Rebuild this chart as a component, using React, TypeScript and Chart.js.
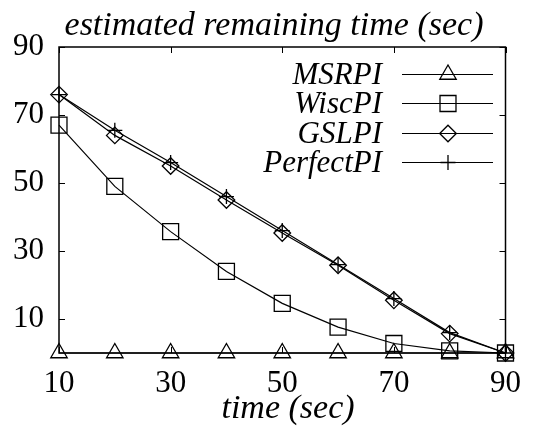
import React, { useEffect, useRef } from "react";
import { Chart, registerables } from "chart.js";
import { drawPoint } from "chart.js/helpers";

Chart.register(...registerables);

const TIME = [10, 20, 30, 40, 50, 60, 70, 80, 90];
const MSRPI = [0, 0, 0, 0, 0, 0, 0, 0, 0];
const WISCPI = [67, 49, 35.7, 24, 14.6, 7.6, 2.8, 0.6, 0];
const GSLPI = [76, 64, 55, 45, 35.3, 25.8, 15.5, 5.7, 0];
const PERFECTPI = [76, 65.5, 56, 46, 36, 26, 16, 6, 0];
const X_TICKS = [10, 30, 50, 70, 90];
const Y_TICKS = [10, 30, 50, 70, 90];
const SERIES_NAMES = ["MSRPI", "WiscPI", "GSLPI", "PerfectPI"];
const TITLE = "estimated remaining time (sec)";
const X_TITLE = "time (sec)";

const FONT = "Liberation Serif";

const STYLES = [
  { pointStyle: "triangle", radius: 9.5 },
  { pointStyle: "rect", radius: 11.3 },
  { pointStyle: "rectRot", radius: 8.3 },
  { pointStyle: "cross", radius: 7.5 },
];

const framePlugin = {
  id: "frame",
  beforeDatasetsDraw(chart: any) {
    const { ctx, chartArea } = chart;
    const { left, right, top, bottom } = chartArea;
    const xs = chart.scales.x;
    const ys = chart.scales.y;
    ctx.save();
    ctx.strokeStyle = "#000";
    ctx.lineWidth = 1.5;
    ctx.strokeRect(left, top, right - left, bottom - top);
    ctx.lineWidth = 1;
    const tl = 6;
    ctx.beginPath();
    X_TICKS.forEach((v) => {
      const px = Math.round(xs.getPixelForValue(v)) + 0.5;
      ctx.moveTo(px, bottom);
      ctx.lineTo(px, bottom - tl);
      ctx.moveTo(px, top);
      ctx.lineTo(px, top + tl);
    });
    Y_TICKS.forEach((v) => {
      const py = Math.round(ys.getPixelForValue(v)) + 0.5;
      ctx.moveTo(left, py);
      ctx.lineTo(left + tl, py);
      ctx.moveTo(right, py);
      ctx.lineTo(right - tl, py);
    });
    ctx.stroke();
    ctx.restore();
  },
  afterDraw(chart: any) {
    const { ctx } = chart;
    ctx.save();
    ctx.fillStyle = "#000";
    ctx.font = `italic 34px "${FONT}"`;
    ctx.textAlign = "center";
    ctx.textBaseline = "alphabetic";
    ctx.fillText(TITLE, 274, 35);
    ctx.fillText(X_TITLE, 288, 418);

    // legend
    ctx.font = `italic 31px "${FONT}"`;
    const rows = [74, 103, 133, 162];
    chart.data.datasets.forEach((ds: any, i: number) => {
      const y = rows[i] + 0.5;
      ctx.textAlign = "right";
      ctx.fillStyle = "#000";
      ctx.fillText(ds.label, 382, rows[i] + 10);
      ctx.strokeStyle = "#000";
      ctx.lineWidth = 1;
      ctx.beginPath();
      ctx.moveTo(402, y);
      ctx.lineTo(493, y);
      ctx.stroke();
      ctx.fillStyle = "rgba(0,0,0,0)";
      ctx.lineWidth = 1.3;
      drawPoint(
        ctx,
        { pointStyle: ds.pointStyle, radius: ds.pointRadius, rotation: 0, borderWidth: 1.3 },
        448,
        y
      );
    });
    ctx.restore();
  },
};

export default function App() {
  const ref = useRef<HTMLCanvasElement>(null);

  useEffect(() => {
    if (!ref.current) return;
    const seriesData = [MSRPI, WISCPI, GSLPI, PERFECTPI];
    const chart = new Chart(ref.current, {
      type: "line",
      data: {
        datasets: seriesData.map((arr, i) => ({
          label: SERIES_NAMES[i],
          data: TIME.map((t, j) => ({ x: t, y: arr[j] })),
          borderColor: "#000",
          backgroundColor: "rgba(0,0,0,0)",
          borderWidth: 1.2,
          pointStyle: STYLES[i].pointStyle as any,
          pointRadius: STYLES[i].radius,
          pointBorderWidth: 1.3,
          pointBorderColor: "#000",
          pointBackgroundColor: "rgba(0,0,0,0)",
          tension: 0,
          clip: false as any,
        })),
      },
      options: {
        animation: false,
        responsive: true,
        maintainAspectRatio: false,
        layout: { padding: { top: 47, right: 17, left: 0, bottom: 0 } },
        plugins: {
          legend: { display: false },
          title: { display: false },
          tooltip: { enabled: false },
        },
        scales: {
          x: {
            type: "linear",
            min: 10,
            max: 90,
            afterBuildTicks: (s: any) => {
              s.ticks = X_TICKS.map((v) => ({ value: v }));
            },
            afterFit: (s: any) => {
              s.height = 75;
            },
            grid: { display: false, drawTicks: false },
            border: { display: false },
            ticks: {
              autoSkip: false,
              maxRotation: 0,
              padding: 12,
              color: "#000",
              font: { family: FONT, size: 31 },
            },
          },
          y: {
            type: "linear",
            min: 0,
            max: 90,
            afterBuildTicks: (s: any) => {
              s.ticks = Y_TICKS.map((v) => ({ value: v }));
            },
            afterFit: (s: any) => {
              s.width = 59;
            },
            grid: { display: false, drawTicks: false },
            border: { display: false },
            ticks: {
              autoSkip: false,
              padding: 15,
              color: "#000",
              font: { family: FONT, size: 31 },
            },
          },
        },
      },
      plugins: [framePlugin],
    });
    return () => chart.destroy();
  }, []);

  return (
    <div style={{ position: "absolute", left: 0, top: 0, width: 533, height: 428, background: "#fff" }}>
      <canvas ref={ref} />
    </div>
  );
}
